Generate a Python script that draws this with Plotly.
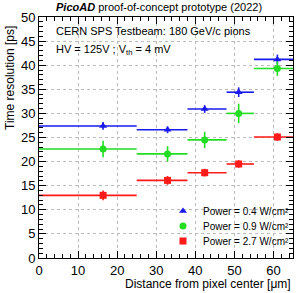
import plotly.graph_objects as go

# ---- data ----
bin_lo = [0, 25, 38, 48, 55]
bin_hi = [25, 38, 48, 55, 65]
x_center = [16.4, 32.9, 42.4, 51.1, 61.0]

res_04 = [27.4, 26.6, 30.9, 34.4, 41.2]
err_04 = [0.8, 0.7, 0.8, 1.0, 1.0]

res_09 = [22.6, 21.6, 24.5, 30.0, 39.3]
err_09 = [1.7, 1.6, 1.7, 2.0, 1.5]

res_27 = [13.0, 16.1, 17.7, 19.5, 25.1]
err_27 = [1.0, 0.9, 0.8, 0.8, 0.8]

labels = ["Power = 0.4 W/cm²", "Power = 0.9 W/cm²", "Power = 2.7 W/cm²"]

series = [
    (labels[0], res_04, err_04, "#1a1aee", "triangle-up", 7, "legend"),
    (labels[1], res_09, err_09, "#22dd22", "circle", 7, "legend2"),
    (labels[2], res_27, err_27, "#ff1a1a", "square", 7, "legend3"),
]

xm = [c - lo for c, lo in zip(x_center, bin_lo)]
xp = [hi - c for c, hi in zip(x_center, bin_hi)]

FONT = "Liberation Sans, Arial, Helvetica, sans-serif"

fig = go.Figure()
for name, y, e, col, sym, sz, leg in series:
    fig.add_trace(go.Scatter(
        x=x_center, y=y, mode="markers", name=name, legend=leg,
        marker=dict(symbol=sym, size=sz, color=col),
        error_x=dict(type="data", symmetric=False, array=xp, arrayminus=xm,
                     color=col, thickness=1.6, width=0),
        error_y=dict(type="data", array=e, color=col, thickness=1.6, width=0),
    ))

axis_common = dict(
    showline=True, linecolor="black", linewidth=1, mirror="allticks",
    ticks="inside", ticklen=7, tickcolor="black",
    showgrid=True, gridcolor="#bbbbbb", griddash="dot", gridwidth=1,
    zeroline=False, automargin=False,
    tickfont=dict(family=FONT, size=13, color="black"),
)

fig.update_xaxes(range=[0, 65], dtick=10, tick0=0,
                 minor=dict(dtick=2, ticklen=4, ticks="inside", tickcolor="black", showgrid=False),
                 **axis_common)
fig.update_yaxes(range=[0, 50], dtick=5, tick0=0,
                 minor=dict(dtick=1, ticklen=4, ticks="inside", tickcolor="black", showgrid=False),
                 **axis_common)

def leg(yc):
    return dict(x=(163 - 39) / 254, y=(258 - yc) / 241, xanchor="left", yanchor="middle",
                bgcolor="rgba(255,255,255,0)", borderwidth=0,
                font=dict(family=FONT, size=10))

fig.update_layout(
    width=299, height=293,
    margin=dict(l=39, r=6, t=17, b=35, autoexpand=False),
    paper_bgcolor="white", plot_bgcolor="white",
    font=dict(family=FONT, size=11, color="black"),
    showlegend=True,
    legend=leg(211), legend2=leg(226), legend3=leg(241),
    annotations=[
        dict(text="<b><i>PicoAD</i></b> proof-of-concept prototype (2022)",
             xref="paper", yref="paper", x=(159 - 39) / 254, y=(258 - 7) / 241,
             xanchor="center", yanchor="middle", showarrow=False,
             font=dict(family=FONT, size=11)),
        dict(text="CERN SPS Testbeam: 180 GeV/c pions",
             xref="paper", yref="paper", x=(54 - 39) / 254, y=(258 - 31) / 241,
             xanchor="left", yanchor="middle", showarrow=False,
             font=dict(family=FONT, size=11)),
        dict(text="HV = 125V ; V<sub>th</sub> = 4 mV",
             xref="paper", yref="paper", x=(54 - 39) / 254, y=(258 - 50) / 241,
             xanchor="left", yanchor="middle", showarrow=False,
             font=dict(family=FONT, size=11)),
        dict(text="Time resolution [ps]", textangle=-90,
             xref="paper", yref="paper", x=(10 - 39) / 254, y=(258 - 24) / 241,
             xanchor="center", yanchor="top", showarrow=False,
             font=dict(family=FONT, size=12)),
        dict(text="Distance from pixel center [μm]",
             xref="paper", yref="paper", x=1.0, y=(258 - 284) / 241,
             xanchor="right", yanchor="middle", showarrow=False,
             font=dict(family=FONT, size=12)),
    ],
)

fig.write_html("out.html", config={"displayModeBar": False},
               post_script="document.body.style.margin='0';document.body.style.overflow='hidden';")
